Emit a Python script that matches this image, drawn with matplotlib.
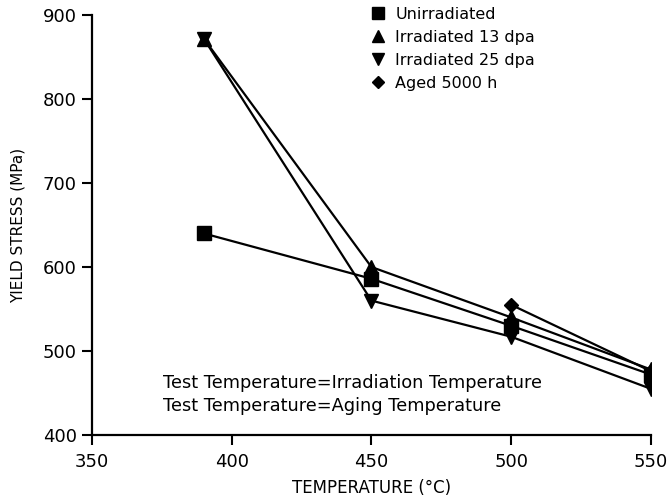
import matplotlib
matplotlib.use("Agg")
import matplotlib.pyplot as plt

# Yield stress vs. test temperature
temps_unirr = [390, 450, 500, 550]
stress_unirr = [640, 586, 530, 472]

temps_13dpa = [390, 450, 500, 550]
stress_13dpa = [872, 600, 540, 478]

temps_25dpa = [390, 450, 500, 550]
stress_25dpa = [872, 560, 517, 455]

temps_aged = [500, 550]
stress_aged = [555, 476]

series = [
    ("Unirradiated", temps_unirr, stress_unirr, "s", 10),
    ("Irradiated 13 dpa", temps_13dpa, stress_13dpa, "^", 9.5),
    ("Irradiated 25 dpa", temps_25dpa, stress_25dpa, "v", 9.5),
    ("Aged 5000 h", temps_aged, stress_aged, "D", 7),
]

xticks = [350, 400, 450, 500, 550]
yticks = [400, 500, 600, 700, 800, 900]

plt.rcParams["font.family"] = ["DejaVu Sans"]

fig = plt.figure(figsize=(6.71, 5.0), dpi=100)
ax = fig.add_axes([0.137, 0.13, 0.833, 0.84])

for label, xs, ys, m, ms in series:
    ax.plot(xs, ys, color="black", lw=1.6, marker=m, ms=ms,
            markerfacecolor="black", markeredgecolor="black", label=label)

ax.set_xlim(350, 550)
ax.set_ylim(400, 900)
ax.set_xticks(xticks)
ax.set_yticks(yticks)
ax.tick_params(axis="both", direction="out", length=7, width=1.5,
               labelsize=13)
ax.tick_params(axis="x", pad=6)
ax.tick_params(axis="y", pad=4)
for s in ("top", "right"):
    ax.spines[s].set_visible(False)
for s in ("left", "bottom"):
    ax.spines[s].set_linewidth(1.6)

ax.set_xlabel("TEMPERATURE (°C)", fontsize=12, labelpad=6)
ax.set_ylabel("YIELD STRESS (MPa)", fontsize=11, labelpad=12)

leg_handles = []
for (label, xs, ys, m, ms) in series:
    h, = ax.plot([], [], ls="none", marker=m, ms=ms * 0.85, color="black")
    leg_handles.append(h)
ax.legend(leg_handles, [s[0] for s in series], loc="upper left",
          bbox_to_anchor=(0.494, 1.02), frameon=False, fontsize=11.5,
          borderaxespad=0, borderpad=0,
          handletextpad=0.5, labelspacing=0.5, handlelength=1.2)

ax.text(0.127, 0.112, "Test Temperature=Irradiation Temperature",
        transform=ax.transAxes, fontsize=12.8, va="baseline")
ax.text(0.127, 0.058, "Test Temperature=Aging Temperature",
        transform=ax.transAxes, fontsize=12.8, va="baseline")

fig.savefig("out.png", dpi=100)
